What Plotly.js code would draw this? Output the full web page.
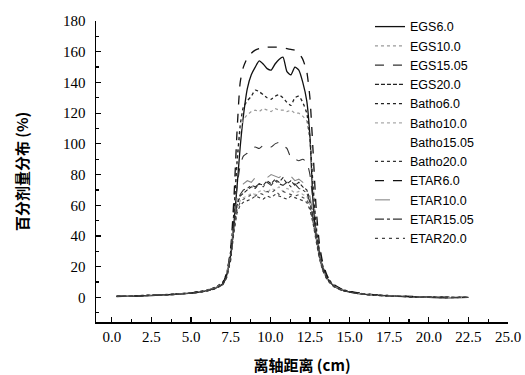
<!DOCTYPE html>
<html><head><meta charset="utf-8">
<script src="https://cdn.plot.ly/plotly-3.0.1.min.js"></script>
<style>html,body{margin:0;padding:0;background:#fff}#c{width:525px;height:375px}</style>
</head><body><div id="c"></div>
<script>
const xPos = [0.3,1,2,3,4,5,5.5,6,6.5,7,7.25,7.5,7.7,7.9,8.1,8.3,8.55,8.8,9.05,9.3,9.55,9.8,10.05,10.3,10.55,10.8,11.05,11.3,11.55,11.8,12.05,12.3,12.5,12.7,12.9,13.1,13.3,13.6,14,14.5,15.2,16,17,18,19,20,21,22.5];

const seriesNames = ["EGS6.0","EGS10.0","EGS15.05","EGS20.0","Batho6.0","Batho10.0","Batho15.05","Batho20.0","ETAR6.0","ETAR10.0","ETAR15.05","ETAR20.0"];

const egs6 = [0.6,0.8,1.0,1.5,2.0,2.8,3.4,4.4,6.0,9.0,15,28,48,72,98,118,136,145,150,154,152,149,148,152,155,156.5,147,145,150,148,140,128,105,62,40,28,20,12,7.5,5,3.2,2.0,1.3,0.8,0.3,0.0,-0.2,0];
const egs10 = [0.7,0.9,1.2,1.6,2.1,3.0,3.6,4.6,6.2,9.5,15,30,55,88,108,116,119,121,122,121,123,122,121,123,122,122,121,122,120,120,118,115,102,74,47,31,21,13,8,5.2,3.4,2.2,1.4,0.9,0.5,0.3,0.1,0];
const egs1505 = [0.7,0.8,1.1,1.5,2.0,2.9,3.5,4.5,6.0,9.0,15,28,50,72,86,92,94,97,98,97,99,99,98,100,101,99,97,91,90,89,90,88,80,62,42,29,20,12.5,7.8,5,3.3,2.1,1.3,0.8,0.4,0.2,0,0];
const egs20 = [0.6,0.8,1.1,1.5,2.0,2.8,3.4,4.3,5.8,8.5,14,26,45,60,66,68,70,72,71,74,73,76,74,77,75,78,74,76,73,75,72,70,64,52,38,27,19,12,7.5,4.8,3.1,2.0,1.2,0.7,0.3,0.1,-0.1,0];
const batho6 = [0.7,0.9,1.3,1.7,2.2,3.1,3.8,4.8,6.5,10,16,30,55,88,112,124,128,131,135,134,132,130,129,131,132,130,127,125,130,131,127,120,104,72,45,30,21,13,8,5.2,3.4,2.2,1.4,0.9,0.5,0.3,0.1,0];
const batho10 = [0.6,0.8,1.1,1.4,1.9,2.7,3.3,4.2,5.6,8.2,13,25,43,58,63,65,66,68,67,69,70,68,71,70,72,69,71,70,68,69,67,66,60,50,37,26,18,11.5,7.2,4.6,3.0,1.9,1.2,0.7,0.3,0.1,0,0];
const batho1505 = [0.7,0.9,1.2,1.6,2.1,3.0,3.6,4.6,6.1,9.2,15,28,50,66,72,75,76,78,77,80,79,81,78,82,80,79,81,77,78,76,75,73,67,55,40,28,19,12,7.6,4.9,3.2,2.0,1.3,0.8,0.4,0.2,0,0];
const batho20 = [0.6,0.7,1.0,1.4,1.9,2.7,3.2,4.1,5.5,8.0,13,24,42,55,60,62,63,64,66,65,64,66,65,67,66,65,64,66,65,64,63,62,57,48,36,25,17.5,11,7,4.5,2.9,1.8,1.1,0.6,0.2,0,-0.2,0];
const etar6 = [0.8,0.9,1.2,1.6,2.1,3.0,3.6,4.6,6.2,9.5,16,32,64,108,140,150,156,159,161,162,162.5,163,163,163,163,162.5,162,161.5,161,159,155,147,130,95,57,35,23,14,8.5,5.5,3.6,2.3,1.5,1.0,0.6,0.4,0.2,0.1];
const etar10 = [0.7,0.9,1.2,1.6,2.1,3.0,3.6,4.6,6.1,9.2,15,28,48,64,71,74,76,75,78,77,79,78,80,79,78,80,77,79,76,77,75,73,66,54,39,27,19,12,7.6,4.9,3.2,2.0,1.3,0.8,0.4,0.2,0,0];
const etar1505 = [0.6,0.8,1.1,1.5,2.0,2.8,3.4,4.3,5.8,8.6,14,26,46,61,67,70,71,73,72,74,72,75,73,76,74,73,75,72,74,71,70,68,62,51,38,27,18.5,11.8,7.4,4.7,3.1,2.0,1.2,0.7,0.3,0.1,0,0];
const etar20 = [0.6,0.7,1.0,1.4,1.9,2.7,3.3,4.2,5.6,8.2,13,25,44,57,62,64,65,67,66,68,67,69,68,70,67,69,68,67,66,67,65,64,59,49,37,26,18,11.5,7.2,4.6,3.0,1.9,1.2,0.7,0.3,0.1,0,0];

const yTickVals = [0,20,40,60,80,100,120,140,160,180];
const xTickVals = [0,2.5,5,7.5,10,12.5,15,17.5,20,22.5,25];
const xTickText = ["0.0","2.5","5.0","7.5","10.0","12.5","15.0","17.5","20.0","22.5","25.0"];

const allY = [egs6,egs10,egs1505,egs20,batho6,batho10,batho1505,batho20,etar6,etar10,etar1505,etar20];
const styles = [
  {color:'#111', dash:'solid', width:1.3, shape:'spline', smoothing:0.6},
  {color:'#999', dash:'dot', width:1.2},
  {color:'#333', dash:'dash', width:1.1, shape:'spline', smoothing:0.5},
  {color:'#222', dash:'4px,2px', width:1.1},
  {color:'#222', dash:'dot', width:1.3, shape:'spline', smoothing:0.5},
  {color:'#aaa', dash:'dot', width:1.1},
  {color:'rgba(255,255,255,0)', dash:'solid', width:1},
  {color:'#333', dash:'3px,3px', width:1.1},
  {color:'#111', dash:'dash', width:1.3, shape:'spline', smoothing:0.6},
  {color:'#888', dash:'longdash', width:1.1},
  {color:'#333', dash:'dashdot', width:1.1},
  {color:'#444', dash:'3px,4px', width:1.1}
];

const traces = allY.map((ys,i)=>({
  x: xPos, y: ys, name: seriesNames[i], type:'scatter', mode:'lines',
  line: styles[i]
}));

const layout = {
  width:525, height:375,
  paper_bgcolor:'#fff', plot_bgcolor:'#fff',
  margin:{l:96, r:17, t:18, b:53},
  showlegend:true,
  legend:{x:0.665, y:1.03, xanchor:'left', yanchor:'top', bgcolor:'rgba(0,0,0,0)', maxheight:360,
    font:{family:'Liberation Sans, Arial, sans-serif', size:12.5, color:'#000'}, tracegroupgap:0, itemwidth:30},
  xaxis:{range:[-1,25], tickvals:xTickVals, ticktext:xTickText, ticks:'inside', ticklen:5, tickwidth:1.2, tickcolor:'#000',
    minor:{ticks:'inside', ticklen:3, dtick:1.25, tick0:0, tickcolor:'#000'},
    showline:true, linecolor:'#000', linewidth:1.5, showgrid:false, zeroline:false,
    tickfont:{family:'Liberation Serif, Times New Roman, serif', size:15, color:'#000'},
    title:{text:'<b>离轴距离 (cm)</b>', standoff:17, font:{family:'Noto Sans CJK SC, sans-serif', size:15, color:'#000'}}},
  yaxis:{range:[-16,180], tickvals:yTickVals, ticks:'inside', ticklen:5, tickwidth:1.2, tickcolor:'#000',
    minor:{ticks:'inside', ticklen:3, dtick:10, tick0:0, tickcolor:'#000'},
    showline:true, linecolor:'#000', linewidth:1.5, showgrid:false, zeroline:false, ticklabelstandoff:6,
    tickfont:{family:'Liberation Serif, Times New Roman, serif', size:15, color:'#000'},
    title:{text:'<b>百分剂量分布 (%)</b>', standoff:31, font:{family:'Noto Sans CJK SC, sans-serif', size:15, color:'#000'}}}
};
Plotly.newPlot('c', traces, layout, {displayModeBar:false, staticPlot:true});
</script></body></html>
